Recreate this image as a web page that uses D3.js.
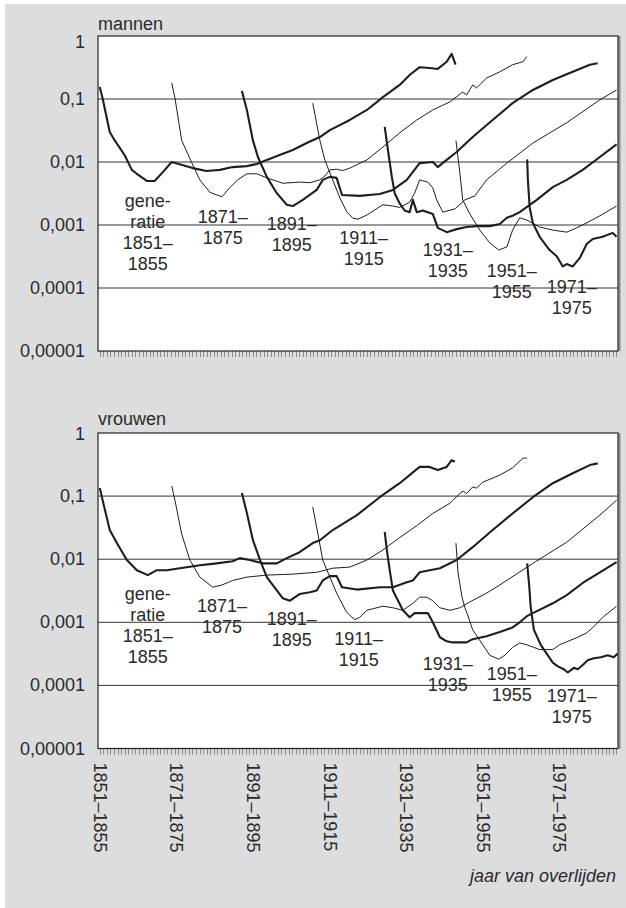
<!DOCTYPE html>
<html><head><meta charset="utf-8">
<script src="https://cdn.jsdelivr.net/npm/d3@7"></script>
<style>
body{margin:0;background:#fff}
svg text{font-family:"Liberation Sans",Arial,Helvetica,sans-serif;fill:#2a2a2a}
</style>
</head><body>
<svg id="chart" width="626" height="908"></svg>
<script>
// ---------- data ----------
const yTickValues = [1, 0.1, 0.01, 0.001, 0.0001, 0.00001];
const yTickLabels = ["1", "0,1", "0,01", "0,001", "0,0001", "0,00001"];
const xTickLabels = ["1851–1855", "1871–1875", "1891–1895", "1911–1915", "1931–1935", "1951–1955", "1971–1975"];
const generations = ["1851–1855", "1871–1875", "1891–1895", "1911–1915", "1931–1935", "1951–1955", "1971–1975"];
const panelTitles = ["mannen", "vrouwen"];
const xTitle = "jaar van overlijden";

// mortality by year of death, per birth generation (men)
const men1851 = [[1851.0,0.155],[1851.8,0.102],[1853.8,0.030],[1855.2,0.022],[1858.0,0.0128],[1860.0,0.0075],[1861.4,0.0065],[1864.2,0.005],[1866.4,0.005],[1868.7,0.0069],[1871.2,0.01],[1877.1,0.008],[1881.0,0.0072],[1884.7,0.0075],[1888.3,0.0083],[1892.3,0.0086],[1895.1,0.0093],[1897.9,0.0108],[1901.5,0.0129],[1905.2,0.0155],[1909.1,0.02],[1912.8,0.0249],[1915.6,0.032],[1921.2,0.0465],[1926.0,0.067],[1930.5,0.107],[1935.2,0.167],[1938.0,0.24],[1940.8,0.32],[1943.6,0.31],[1945.9,0.30],[1948.4,0.39],[1949.8,0.52],[1950.9,0.35]];
const men1871 = [[1871.2,0.18],[1872.1,0.104],[1874.0,0.022],[1876.8,0.0098],[1879.1,0.0052],[1881.9,0.0033],[1885.3,0.0028],[1887.5,0.0039],[1889.7,0.0052],[1892.3,0.0065],[1895.1,0.0065],[1897.9,0.0056],[1902.4,0.0046],[1907.1,0.0048],[1910.0,0.0047],[1912.8,0.0052],[1914.2,0.006],[1915.6,0.0075],[1917.5,0.0077],[1919.2,0.0073],[1921.2,0.008],[1926.0,0.0108],[1930.5,0.0173],[1935.2,0.029],[1940.0,0.0465],[1944.5,0.067],[1949.3,0.09],[1952.9,0.129],[1954.0,0.116],[1955.7,0.167],[1956.8,0.15],[1959.6,0.215],[1963.3,0.27],[1966.9,0.35],[1969.8,0.39],[1970.9,0.47]];
const men1891 = [[1890.9,0.134],[1892.3,0.067],[1894.0,0.022],[1895.4,0.012],[1897.9,0.0058],[1900.7,0.0032],[1903.5,0.0021],[1905.2,0.002],[1908.0,0.0025],[1911.9,0.0036],[1913.6,0.0052],[1915.6,0.0058],[1917.5,0.0056],[1919.0,0.003],[1924.0,0.0029],[1929.6,0.0031],[1933.3,0.0036],[1937.2,0.0052],[1940.8,0.0096],[1944.5,0.01],[1945.9,0.0083],[1948.4,0.0108],[1951.2,0.0144],[1955.7,0.025],[1961.3,0.0465],[1966.9,0.086],[1972.6,0.139],[1978.2,0.2],[1983.8,0.27],[1988.6,0.35],[1990.8,0.37]];
const men1911 = [[1910.8,0.086],[1912.8,0.022],[1914.2,0.0107],[1916.4,0.0052],[1918.4,0.0027],[1920.4,0.0016],[1922.1,0.00128],[1923.5,0.00124],[1926.0,0.00144],[1930.5,0.0021],[1933.3,0.002],[1935.2,0.0019],[1938.0,0.0023],[1939.4,0.0032],[1940.8,0.0052],[1943.1,0.0048],[1944.5,0.0039],[1945.6,0.0025],[1947.3,0.0016],[1950.7,0.0018],[1953.5,0.0025],[1956.3,0.0029],[1959.6,0.0052],[1965.3,0.0096],[1972.6,0.02],[1982.1,0.042],[1991.4,0.097],[1996.1,0.139]];
const men1931 = [[1931.0,0.036],[1931.9,0.0155],[1933.0,0.0058],[1933.8,0.0032],[1935.2,0.0022],[1936.6,0.0017],[1938.0,0.0016],[1938.9,0.0025],[1940.0,0.0016],[1941.7,0.0017],[1944.5,0.0015],[1945.9,0.0009],[1948.4,0.00077],[1951.2,0.00086],[1954.0,0.00093],[1956.8,0.00096],[1960.5,0.00096],[1963.3,0.00104],[1965.3,0.0013],[1966.9,0.0014],[1968.9,0.0016],[1973.7,0.0025],[1978.2,0.004],[1982.1,0.0052],[1986.6,0.0075],[1991.4,0.012],[1996.1,0.019]];
const men1951 = [[1951.0,0.022],[1952.1,0.0067],[1952.9,0.0025],[1954.9,0.0015],[1957.7,0.00083],[1960.5,0.00052],[1963.0,0.0004],[1965.3,0.00045],[1966.9,0.00083],[1968.9,0.0013],[1970.9,0.0012],[1974.5,0.00093],[1978.2,0.00083],[1982.1,0.00077],[1984.9,0.0009],[1987.7,0.00108],[1991.4,0.0014],[1996.1,0.002]];
const men1971 = [[1971.0,0.011],[1971.2,0.0052],[1971.7,0.0019],[1972.6,0.00107],[1974.5,0.00065],[1977.3,0.0004],[1979.3,0.00032],[1981.0,0.00022],[1982.1,0.00024],[1983.8,0.00022],[1985.8,0.0003],[1987.7,0.0005],[1989.4,0.0006],[1992.2,0.00065],[1995.0,0.00075],[1996.1,0.00065]];

// women
const women1851 = [[1851.0,0.134],[1851.8,0.086],[1853.8,0.029],[1855.8,0.018],[1858.6,0.0097],[1861.4,0.0067],[1864.5,0.0056],[1867.0,0.0067],[1869.8,0.0067],[1873.5,0.0072],[1879.1,0.008],[1883.8,0.0086],[1888.3,0.0093],[1890.3,0.0104],[1893.1,0.0097],[1896.8,0.0086],[1900.7,0.0086],[1903.5,0.0104],[1907.1,0.0129],[1910.8,0.018],[1912.8,0.02],[1916.4,0.029],[1923.2,0.05],[1929.6,0.096],[1935.2,0.16],[1940.8,0.29],[1943.6,0.29],[1945.9,0.26],[1948.4,0.29],[1949.8,0.37],[1950.7,0.35]];
const women1871 = [[1871.2,0.145],[1872.1,0.086],[1874.0,0.025],[1876.3,0.0097],[1879.1,0.0052],[1882.7,0.0036],[1885.3,0.0039],[1888.3,0.0046],[1892.3,0.0052],[1897.9,0.0056],[1905.2,0.0058],[1911.9,0.0062],[1916.4,0.0072],[1921.2,0.0075],[1926.0,0.0097],[1930.5,0.014],[1935.2,0.022],[1940.0,0.034],[1944.5,0.053],[1949.3,0.077],[1952.1,0.11],[1953.0,0.12],[1954.0,0.11],[1955.7,0.14],[1956.8,0.134],[1958.5,0.166],[1963.3,0.215],[1966.9,0.28],[1969.8,0.40],[1970.9,0.40]];
const women1891 = [[1890.9,0.112],[1892.3,0.054],[1894.0,0.02],[1896.0,0.0097],[1897.9,0.0052],[1900.7,0.0032],[1902.4,0.0024],[1904.4,0.0022],[1907.1,0.0028],[1910.0,0.003],[1911.9,0.0032],[1913.6,0.0046],[1915.6,0.0054],[1917.5,0.0054],[1919.0,0.0036],[1923.2,0.0033],[1929.6,0.0036],[1933.3,0.0036],[1937.2,0.0043],[1938.9,0.0046],[1940.8,0.0062],[1946.5,0.0072],[1951.2,0.0097],[1955.7,0.0155],[1961.3,0.029],[1966.9,0.053],[1972.6,0.096],[1978.2,0.16],[1983.8,0.23],[1988.6,0.31],[1990.8,0.33]];
const women1911 = [[1910.8,0.067],[1912.2,0.026],[1913.6,0.0097],[1915.6,0.0052],[1917.5,0.0029],[1920.3,0.00144],[1922.6,0.0011],[1924.0,0.0012],[1926.0,0.00155],[1930.5,0.0018],[1933.3,0.0017],[1936.1,0.00155],[1938.9,0.002],[1940.8,0.0025],[1942.8,0.0025],[1944.5,0.0022],[1946.5,0.0017],[1949.3,0.00155],[1952.1,0.0017],[1954.9,0.0021],[1959.6,0.0029],[1963.3,0.0039],[1972.6,0.0086],[1982.1,0.0186],[1991.4,0.05],[1996.1,0.086]];
const women1931 = [[1931.0,0.027],[1931.6,0.014],[1932.4,0.0067],[1933.3,0.0032],[1934.4,0.0024],[1936.1,0.00155],[1938.0,0.0012],[1939.4,0.0014],[1941.4,0.0014],[1943.1,0.0014],[1944.5,0.001],[1946.5,0.00058],[1948.4,0.0005],[1950.1,0.00048],[1954.0,0.00048],[1955.7,0.00054],[1959.6,0.0006],[1963.3,0.0007],[1966.9,0.00083],[1968.9,0.001],[1970.9,0.00125],[1972.6,0.0014],[1978.2,0.002],[1982.1,0.0027],[1986.6,0.0042],[1991.4,0.0062],[1996.1,0.009]];
const women1951 = [[1951.0,0.018],[1951.6,0.006],[1952.7,0.0025],[1953.5,0.0017],[1954.1,0.0014],[1955.7,0.00076],[1958.2,0.00047],[1960.5,0.0003],[1963.0,0.00026],[1964.7,0.0003],[1966.9,0.0004],[1968.9,0.00047],[1970.9,0.00044],[1974.5,0.00037],[1978.2,0.00037],[1980.1,0.00044],[1982.1,0.00049],[1984.9,0.00057],[1987.7,0.00068],[1989.4,0.00082],[1992.2,0.0012],[1996.1,0.0018]];
const women1971 = [[1971.0,0.0086],[1971.6,0.0036],[1972.0,0.0017],[1972.9,0.00076],[1974.8,0.00044],[1976.8,0.0003],[1978.2,0.00023],[1979.6,0.0002],[1981.3,0.00018],[1982.4,0.00016],[1984.1,0.00019],[1985.2,0.00018],[1986.6,0.00021],[1988.0,0.00025],[1989.7,0.00027],[1991.7,0.00028],[1993.6,0.0003],[1995.3,0.00028],[1996.4,0.00032]];

const menSeries = [men1851, men1871, men1891, men1911, men1931, men1951, men1971];
const womenSeries = [women1851, women1871, women1891, women1911, women1931, women1951, women1971];

// ---------- layout ----------
const W = 626, H = 908;
const plotLeft = 98, plotRight = 618;
const panels = [
  {title: panelTitles[0], series: menSeries, top: 36, bottom: 351, titleY: 30, oneShift: 6,
   labelAt: [[1864.5,0.00193],[1885.5,0.00108],[1904.9,0.00083],[1925.1,0.0005],[1948.7,0.00032],[1966.7,0.00015],[1983.5,0.000083]]},
  {title: panelTitles[1], series: womenSeries, top: 433, bottom: 748.5, titleY: 425, oneShift: 1,
   labelAt: [[1864.5,0.00228],[1885.3,0.00147],[1904.9,0.00092],[1923.7,0.00044],[1948.7,0.000178],[1966.7,0.000124],[1983.5,0.0000555]]}
];

const svg = d3.select("#chart");
svg.append("rect").attr("x", 5).attr("y", 4).attr("width", W - 5).attr("height", H - 4).attr("fill", "#dcdddf");

const x = d3.scaleLinear().domain([1850.5, 1996.5]).range([plotLeft, plotRight]);
const years = d3.range(1851, 1997);

panels.forEach((p, pi) => {
  const y = d3.scaleLog().domain([0.00001, 1]).range([p.bottom, p.top]);
  const g = svg.append("g");
  const clipId = "clip" + pi;
  svg.append("clipPath").attr("id", clipId).append("rect")
    .attr("x", plotLeft).attr("y", p.top).attr("width", plotRight - plotLeft).attr("height", p.bottom - p.top);

  g.append("rect").attr("x", plotLeft).attr("y", p.top).attr("width", plotRight - plotLeft)
    .attr("height", p.bottom - p.top).attr("fill", "#fff");

  // shadow on right
  g.append("line").attr("x1", plotRight + 1.5).attr("x2", plotRight + 1.5).attr("y1", p.top).attr("y2", p.bottom)
    .attr("stroke", "#8a8a8a").attr("stroke-width", 2);

  // gridlines
  g.selectAll("line.grid").data(yTickValues.slice(1, -1)).join("line")
    .attr("x1", plotLeft).attr("x2", plotRight)
    .attr("y1", d => y(d)).attr("y2", d => y(d))
    .attr("stroke", "#333").attr("stroke-width", 1);

  // minor x ticks
  g.selectAll("line.xt").data(years).join("line")
    .attr("x1", d => Math.round(x(d)) + 0.5).attr("x2", d => Math.round(x(d)) + 0.5)
    .attr("y1", p.bottom).attr("y2", p.bottom + 6)
    .attr("stroke", "#8a8a8a").attr("stroke-width", 1);

  // frame
  g.append("rect").attr("x", plotLeft).attr("y", p.top).attr("width", plotRight - plotLeft)
    .attr("height", p.bottom - p.top).attr("fill", "none").attr("stroke", "#222").attr("stroke-width", 1.2);

  // lines
  const line = d3.line().x(d => x(d[0])).y(d => y(d[1]));
  g.append("g").attr("clip-path", `url(#${clipId})`).selectAll("path").data(p.series).join("path")
    .attr("d", line).attr("fill", "none").attr("stroke", "#1e1e1e")
    .attr("stroke-width", (d, i) => i % 2 === 0 ? 2.1 : 1.0)
    .attr("stroke-linejoin", "round");

  // y labels
  g.selectAll("text.yl").data(yTickValues).join("text")
    .attr("x", 85).attr("y", (d, i) => y(d) + (i === 0 ? p.oneShift : 0))
    .attr("text-anchor", "end").attr("dominant-baseline", "central")
    .attr("font-size", 18).text((d, i) => yTickLabels[i]);

  // title
  g.append("text").attr("x", plotLeft).attr("y", p.titleY).attr("font-size", 18).text(p.title);

  // generation labels
  generations.forEach((gen, i) => {
    const [a, b] = gen.split("–");
    const lines = i === 0 ? ["gene-", "ratie", a + "–", b] : [a + "–", b];
    const [lx, lv] = p.labelAt[i];
    const t = g.append("text").attr("text-anchor", "middle").attr("font-size", 18);
    lines.forEach((s, k) => t.append("tspan").attr("x", x(lx)).attr("y", y(lv) + k * 21).text(s));
  });
});

// x-axis labels (bottom panel)
const bottomY = panels[1].bottom;
const xl = d3.scalePoint().domain(xTickLabels).range([x(1851), x(1980)]);
svg.append("g").selectAll("text").data(xTickLabels).join("text")
  .attr("transform", d => `translate(${xl(d)},${bottomY + 14}) rotate(90)`)
  .attr("text-anchor", "start").attr("dominant-baseline", "central")
  .attr("font-size", 18).text(d => d);

svg.append("text").attr("x", 616).attr("y", 882).attr("text-anchor", "end")
  .attr("font-size", 18).attr("font-style", "italic").text(xTitle);
</script>
</body></html>
